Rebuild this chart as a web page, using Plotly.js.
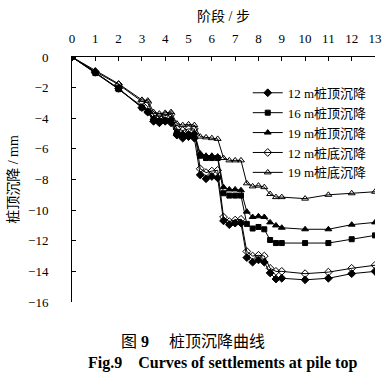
<!DOCTYPE html>
<html>
<head>
<meta charset="utf-8">
<script src="https://cdn.plot.ly/plotly-3.0.1.min.js"></script>
<style>html,body{margin:0;padding:0;background:#fff;}#chart{width:388px;height:379px;}</style>
</head>
<body>
<div id="chart"></div>
<script>
// Loading stages (x) and settlement values (mm)
var stages = [0, 1, 2, 3, 3.25, 3.5, 3.75, 4, 4.25, 4.5, 4.75, 5, 5.25, 5.5, 5.75, 6, 6.25,
  6.5, 6.75, 7, 7.25, 7.5, 7.75, 8, 8.25, 8.5, 8.75, 9, 10, 11, 12, 13];

var top12 = [0, -1.0, -2.05, -3.3, -3.6, -4.2, -4.3, -4.2, -4.3, -5.1, -5.3, -5.2, -5.3,
  -7.7, -7.95, -7.8, -7.9, -10.7, -10.95, -10.85, -10.85, -13.1, -13.4, -13.25, -13.4,
  -14.1, -14.5, -14.45, -14.55, -14.45, -14.15, -14.0];
var top16 = [0, -1.05, -2.1, -3.3, -3.55, -4.1, -4.2, -4.15, -4.15, -5.0, -5.15, -5.1, -5.1,
  -6.45, -6.6, -6.6, -6.6, -8.9, -9.05, -9.05, -9.05, -10.9, -11.2, -11.1, -11.25,
  -11.95, -12.15, -12.15, -12.15, -12.15, -11.9, -11.65];
var top19 = [0, -1.0, -2.1, -3.25, -3.5, -4.0, -4.1, -4.1, -4.05, -4.9, -5.0, -5.0, -4.95,
  -6.3, -6.45, -6.45, -6.5, -8.5, -8.65, -8.65, -8.7, -10.1, -10.45, -10.4, -10.45,
  -10.8, -11.0, -11.15, -11.25, -11.25, -10.95, -10.8];
var bot12 = [0, -0.95, -1.8, -2.9, -3.0, -3.8, -3.9, -3.8, -3.75, -4.7, -4.8, -4.7, -4.7,
  -7.3, -7.55, -7.45, -7.4, -10.45, -10.75, -10.65, -10.6, -12.7, -13.0, -12.95, -13.0,
  -13.8, -14.0, -14.0, -14.15, -14.05, -13.8, -13.6];
var bot19 = [0, -0.9, -1.75, -2.8, -2.85, -3.6, -3.7, -3.65, -3.6, -4.35, -4.45, -4.4, -4.45,
  -5.2, -5.25, -5.3, -5.35, -6.6, -6.75, -6.75, -6.75, -8.25, -8.45, -8.4, -8.5,
  -8.95, -9.15, -9.15, -9.25, -9.0, -8.9, -8.8];

var seriesNames = ['12 m桩顶沉降', '16 m桩顶沉降', '19 m桩顶沉降', '12 m桩底沉降', '19 m桩底沉降'];
var seriesData = [top12, top16, top19, bot12, bot19];
var seriesSymbols = ['diamond', 'square', 'triangle-up', 'diamond-open', 'triangle-up-open'];
var seriesSizes = [6, 5, 6, 6, 6];

var xTickVals = [0,1,2,3,4,5,6,7,8,9,10,11,12,13];
var yTickVals = [0,-2,-4,-6,-8,-10,-12,-14,-16];

var serif = '"Liberation Serif", "Times New Roman", "Noto Sans CJK SC", serif';

var traces = seriesData.map(function (d, i) {
  return {
    x: stages, y: d, name: seriesNames[i], type: 'scatter', mode: 'lines+markers',
    line: {color: '#000', width: 1},
    marker: {symbol: seriesSymbols[i], size: seriesSizes[i], color: '#000',
             line: {color: '#000', width: 1}}
  };
});

var layout = {
  width: 388, height: 379,
  margin: {l: 72, r: 13, t: 57, b: 77},
  paper_bgcolor: '#fff', plot_bgcolor: '#fff',
  font: {family: serif, size: 13, color: '#000'},
  showlegend: true,
  legend: {x: 0.58, y: 0.915, xanchor: 'left', yanchor: 'top', bgcolor: 'rgba(0,0,0,0)',
           font: {family: serif, size: 13, color: '#000'}, itemwidth: 30, tracegroupgap: 0},
  xaxis: {
    side: 'top', range: [0, 13], tickvals: xTickVals, ticks: 'inside', ticklen: 4,
    tickcolor: '#000', showline: true, linecolor: '#000', linewidth: 1, showgrid: false,
    zeroline: false, ticklabelstandoff: 8, tickfont: {family: serif, size: 13},
    title: {text: '阶段 / 步', font: {family: serif, size: 14}, standoff: 5}
  },
  yaxis: {
    range: [-16, 0], tickvals: yTickVals, ticks: 'inside', ticklen: 4,
    tickcolor: '#000', showline: true, linecolor: '#000', linewidth: 1, showgrid: false,
    zeroline: false, ticklabelstandoff: 20, tickfont: {family: serif, size: 13},
    title: {text: '桩顶沉降 / mm', font: {family: serif, size: 14}, standoff: 6}
  },
  annotations: [
    {xref: 'paper', yref: 'paper', x: 0.4, y: -0.16, xanchor: 'center', yanchor: 'middle',
     showarrow: false, text: '图 <b>9</b>     桩顶沉降曲线', font: {family: serif, size: 16}},
    {xref: 'paper', yref: 'paper', x: 0.497, y: -0.25, xanchor: 'center', yanchor: 'middle',
     showarrow: false, text: '<b>Fig.9    Curves of settlements at pile top</b>',
     font: {family: serif, size: 16}}
  ]
};

Plotly.newPlot('chart', traces, layout, {staticPlot: true, displayModeBar: false});
</script>
</body>
</html>
